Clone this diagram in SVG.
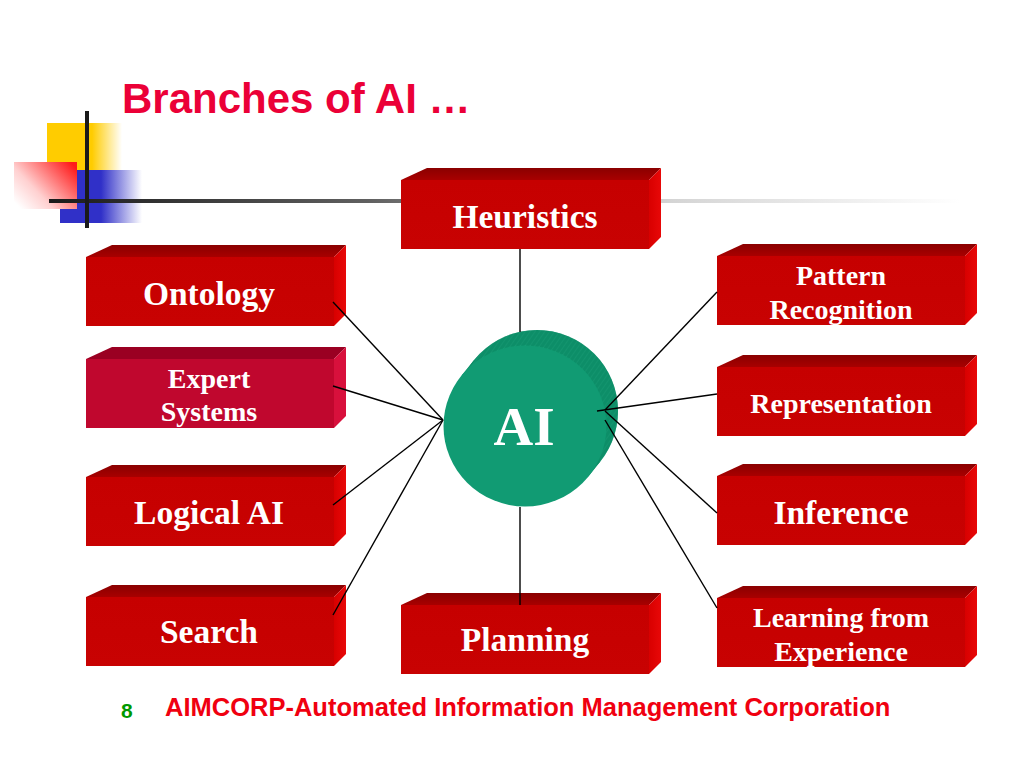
<svg xmlns="http://www.w3.org/2000/svg" width="1024" height="768" viewBox="0 0 1024 768">
<defs>
<style>
.top{fill:url(#gTop)}
.side{fill:url(#gSide)}
.front{fill:url(#gFront)}
.etop{fill:#9A0022}
.eside{fill:#D8103C}
.efront{fill:#C0072E}
.lbl{font-family:"Liberation Serif","Times New Roman",serif;font-weight:bold;fill:#fff;text-anchor:middle}
.big{font-size:33.5px}
.sm{font-size:28px}
.conn line{stroke:#000;stroke-width:1.4}
</style>
<linearGradient id="gTop" x1="0" y1="0" x2="0" y2="1"><stop offset="0" stop-color="#8A0000"/><stop offset="1" stop-color="#A80000"/></linearGradient>
<linearGradient id="gSide" x1="0" y1="0" x2="1" y2="0"><stop offset="0" stop-color="#D80000"/><stop offset="1" stop-color="#E80808"/></linearGradient>
<linearGradient id="gFront" x1="0" y1="0" x2="0" y2="1"><stop offset="0" stop-color="#C60000"/><stop offset="1" stop-color="#C80202"/></linearGradient>
<linearGradient id="gYel" x1="0" y1="0" x2="1" y2="0"><stop offset="0" stop-color="#FFCC00"/><stop offset="0.6" stop-color="#FFCC00"/><stop offset="1" stop-color="#FFCC00" stop-opacity="0"/></linearGradient>
<linearGradient id="gBlue" x1="0" y1="0" x2="1" y2="0"><stop offset="0" stop-color="#3030C8"/><stop offset="0.5" stop-color="#3030C8"/><stop offset="1" stop-color="#3030C8" stop-opacity="0"/></linearGradient>
<linearGradient id="gRed" x1="0" y1="0.85" x2="1" y2="0.15"><stop offset="0" stop-color="#FFFFFF"/><stop offset="0.35" stop-color="#FFD0D0"/><stop offset="1" stop-color="#FF1A1A"/></linearGradient>
<linearGradient id="gLine" gradientUnits="userSpaceOnUse" x1="49" y1="0" x2="960" y2="0"><stop offset="0" stop-color="#1A1A1A"/><stop offset="0.35" stop-color="#606060"/><stop offset="0.68" stop-color="#D4D4D4"/><stop offset="1" stop-color="#FFFFFF"/></linearGradient>
<pattern id="hatch" width="4" height="4" patternUnits="userSpaceOnUse" patternTransform="rotate(35)">
<rect width="4" height="4" fill="#0E9169"/>
<line x1="0" y1="0" x2="0" y2="4" stroke="#24A880" stroke-width="1.2"/>
</pattern>
</defs>
<rect width="1024" height="768" fill="#fff"/>

<g id="decor">
<rect x="47" y="123" width="75" height="47" fill="url(#gYel)"/>
<rect x="60" y="170" width="82" height="53" fill="url(#gBlue)"/>
<rect x="14" y="162" width="63" height="47" fill="url(#gRed)"/>
<line x1="49" y1="201" x2="960" y2="201" stroke="url(#gLine)" stroke-width="4"/>
<line x1="87" y1="111" x2="87" y2="228" stroke="#1A1A1A" stroke-width="4"/>
</g>

<text id="title" x="122" y="113" font-family="'Liberation Sans',Arial,sans-serif" font-weight="bold" font-size="42" fill="#EB0037">Branches of AI …</text>

<g id="ai">
<circle cx="537" cy="411" r="81" fill="url(#hatch)"/>
<polygon points="588.3,476.6 600.3,461.6 473.7,360.4 461.7,375.4" fill="url(#hatch)"/>
<path d="M473.7,360.4 A81,81 0 0 1 600.3,461.6 L588.3,476.6 A81,81 0 0 0 461.7,375.4 Z" fill="#0D8D67" opacity="0.55"/>
<ellipse cx="525" cy="426" rx="81.5" ry="80.5" fill="#119B73"/>
<text x="524" y="445" class="lbl" font-size="55">AI</text>
</g>

<g id="heuristics">
<polygon class="top" points="401,180 427,168 661,168 649,180"/>
<polygon class="side" points="649,180 661,168 661,237 649,249"/>
<rect class="front" x="401" y="180" width="248" height="69"/>
<text class="lbl big" x="525" y="228">Heuristics</text>
</g>

<g id="ontology">
<polygon class="top" points="86,257 112,245 346,245 334,257"/>
<polygon class="side" points="334,257 346,245 346,314 334,326"/>
<rect class="front" x="86" y="257" width="248" height="69"/>
<text class="lbl big" x="209" y="305">Ontology</text>
</g>

<g id="expert-systems">
<polygon class="etop" points="86,359 112,347 346,347 334,359"/>
<polygon class="eside" points="334,359 346,347 346,416 334,428"/>
<rect class="efront" x="86" y="359" width="248" height="69"/>
<text class="lbl sm" x="209" y="388">Expert</text>
<text class="lbl sm" x="209" y="421">Systems</text>
</g>

<g id="logical-ai">
<polygon class="top" points="86,477 112,465 346,465 334,477"/>
<polygon class="side" points="334,477 346,465 346,534 334,546"/>
<rect class="front" x="86" y="477" width="248" height="69"/>
<text class="lbl big" x="209" y="524">Logical AI</text>
</g>

<g id="search">
<polygon class="top" points="86,597 112,585 346,585 334,597"/>
<polygon class="side" points="334,597 346,585 346,654 334,666"/>
<rect class="front" x="86" y="597" width="248" height="69"/>
<text class="lbl big" x="209" y="643">Search</text>
</g>

<g id="planning">
<polygon class="top" points="401,605 427,593 661,593 649,605"/>
<polygon class="side" points="649,605 661,593 661,662 649,674"/>
<rect class="front" x="401" y="605" width="248" height="69"/>
<text class="lbl big" x="525" y="651">Planning</text>
</g>

<g id="pattern-recognition">
<polygon class="top" points="717,256 743,244 977,244 965,256"/>
<polygon class="side" points="965,256 977,244 977,313 965,325"/>
<rect class="front" x="717" y="256" width="248" height="69"/>
<text class="lbl sm" x="841" y="285">Pattern</text>
<text class="lbl sm" x="841" y="319">Recognition</text>
</g>

<g id="representation">
<polygon class="top" points="717,367 743,355 977,355 965,367"/>
<polygon class="side" points="965,367 977,355 977,424 965,436"/>
<rect class="front" x="717" y="367" width="248" height="69"/>
<text class="lbl sm" x="841" y="413">Representation</text>
</g>

<g id="inference">
<polygon class="top" points="717,476 743,464 977,464 965,476"/>
<polygon class="side" points="965,476 977,464 977,533 965,545"/>
<rect class="front" x="717" y="476" width="248" height="69"/>
<text class="lbl big" x="841" y="524">Inference</text>
</g>

<g id="learning-from-experience">
<polygon class="top" points="717,598 743,586 977,586 965,598"/>
<polygon class="side" points="965,598 977,586 977,655 965,667"/>
<rect class="front" x="717" y="598" width="248" height="69"/>
<text class="lbl sm" x="841" y="627">Learning from</text>
<text class="lbl sm" x="841" y="661">Experience</text>
</g>

<g id="connectors" class="conn">
<line x1="520" y1="249" x2="520" y2="332"/>
<line x1="520" y1="507" x2="520" y2="605"/>
<line x1="333" y1="302" x2="443" y2="420"/>
<line x1="333" y1="386" x2="443" y2="420"/>
<line x1="333" y1="505" x2="443" y2="420"/>
<line x1="333" y1="615" x2="443" y2="420"/>
<line x1="605" y1="410" x2="717" y2="292"/>
<line x1="597" y1="411" x2="717" y2="394"/>
<line x1="605" y1="411" x2="717" y2="513"/>
<line x1="605" y1="420" x2="717" y2="608"/>
</g>

<g id="footer" font-family="'Liberation Sans',Arial,sans-serif" font-weight="bold">
<text x="121" y="718" font-size="21" fill="#009900">8</text>
<text x="165" y="716" font-size="25.5" fill="#F00010">AIMCORP-Automated Information Management Corporation</text>
</g>
</svg>
